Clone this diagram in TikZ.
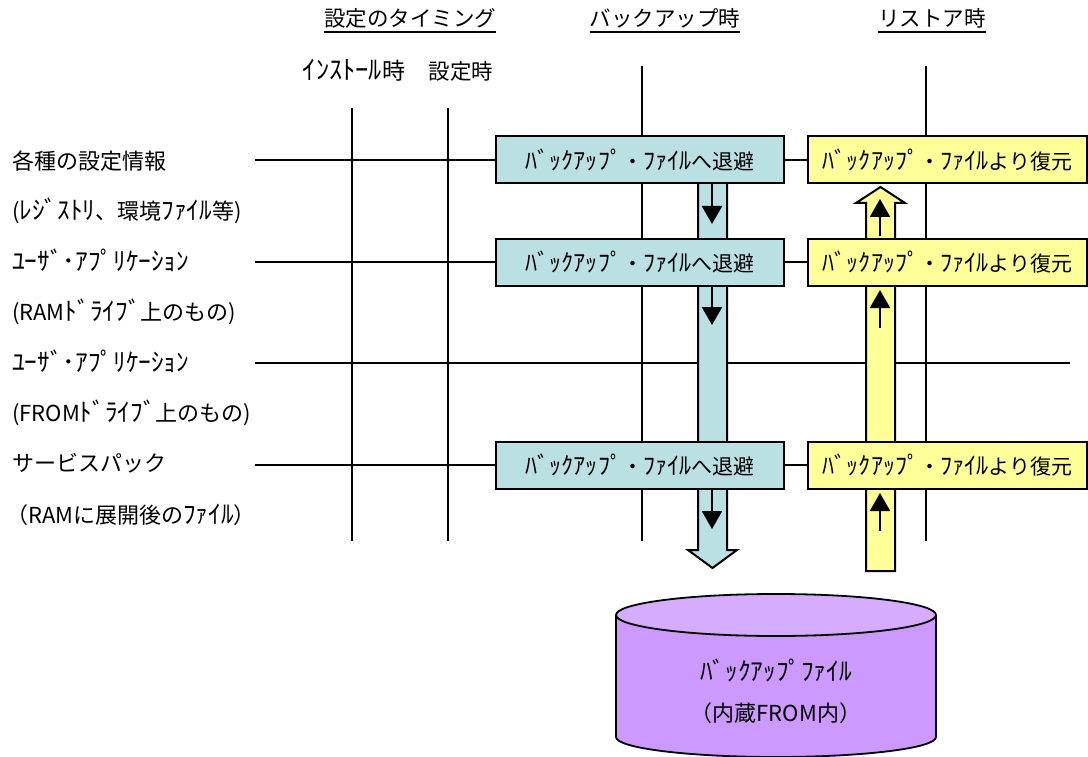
\documentclass[tikz,border=0pt]{standalone}
\usepackage{fontspec}
\setmainfont{Noto Sans CJK JP}
\newfontfamily\hwf[Scale=1.15]{Noto Sans CJK JP}
\newcommand\hw[1]{{\hwf #1}}
\usetikzlibrary{arrows.meta}
\definecolor{bkblue}{HTML}{BBE0E3}
\definecolor{rsyel}{HTML}{FFFF99}
\definecolor{cylside}{HTML}{CC99FF}
\definecolor{cyltop}{HTML}{D6ACFF}
\begin{document}
\begin{tikzpicture}[x=1pt,y=-1pt,
  ln/.style={line width=1.8pt},
  bkbox/.style={draw, line width=2pt, fill=bkblue, minimum width=288pt, minimum height=47pt, inner sep=0pt, font=\fontsize{21}{25}\selectfont},
  rsbox/.style={draw, line width=2pt, fill=rsyel, minimum width=279pt, minimum height=47pt, inner sep=0pt, font=\fontsize{21}{25}\selectfont},
  hdr/.style={font=\fontsize{21.5}{25}\selectfont, inner sep=0pt, anchor=base},
  lbl/.style={font=\fontsize{22}{26}\selectfont, inner sep=0pt, anchor=base west},
  ctxt/.style={font=\fontsize{22}{26}\selectfont, inner sep=0pt},
  tipline/.style={line width=2pt, -{Triangle[width=20pt,length=18pt]}},
  blockarrow/.style={draw, line width=2pt, line join=miter}]
\useasboundingbox (0,0) rectangle (1088,757);

% headers
\node[hdr] (h1) at (410,27) {設定のタイミング};
\node[hdr] (h2) at (665,27) {バックアップ時};
\node[hdr] (h3) at (932,27) {リストア時};
\foreach \h in {h1,h2,h3}{
  \draw[ln] ([yshift=-5pt]\h.base west) -- ([yshift=-5pt]\h.base east);
}
\node[hdr, font=\fontsize{23}{27}\selectfont] (t1) at (354,80) {\hw{ｲﾝｽﾄｰﾙ}時};
\node[hdr] (t2) at (461,80) {設定時};

% left labels
\node[lbl] (l1) at (12,170) {各種の設定情報};
\node[lbl] (l2) at (12,220) {(\hw{ﾚｼﾞｽﾄﾘ}、環境\hw{ﾌｧｲﾙ}等)};
\node[lbl] (l3) at (12,270) {\hw{ﾕｰｻﾞ･ｱﾌﾟﾘｹｰｼｮﾝ}};
\node[lbl] (l4) at (12,320) {(RAM\hw{ﾄﾞﾗｲﾌﾞ}上のもの)};
\node[lbl] (l5) at (12,371) {\hw{ﾕｰｻﾞ･ｱﾌﾟﾘｹｰｼｮﾝ}};
\node[lbl] (l6) at (12,421) {(FROM\hw{ﾄﾞﾗｲﾌﾞ}上のもの)};
\node[lbl] (l7) at (12,471) {サービスパック};
\node[lbl] (l8) at (6,523) {（RAMに展開後の\hw{ﾌｧｲﾙ}）};

% vertical lines
\coordinate (v1t) at (352,108); \coordinate (v1b) at (352,541);
\coordinate (v2t) at (448,108); \coordinate (v2b) at (448,541);
\coordinate (v3t) at (642,66);  \coordinate (v3b) at (642,541);
\coordinate (v4t) at (926,66);  \coordinate (v4b) at (926,541);
\draw[ln] (v1t) -- (v1b);
\draw[ln] (v2t) -- (v2b);
\draw[ln] (v3t) -- (v3b);
\draw[ln] (v4t) -- (v4b);

% row lines start points
\coordinate (r1) at (255,160);
\coordinate (r2) at (255,262);
\coordinate (r3) at (255,363);
\coordinate (r3e) at (1070,363);
\coordinate (r4) at (255,465);
\draw[ln] (r3) -- (r3e);

% big block arrows
\fill[bkblue] (698,183) -- (698,550) -- (688,550) -- (712.5,568) -- (737,550) -- (727,550) -- (727,183) -- cycle;
\draw[blockarrow] (698,183) -- (698,550) -- (688,550) -- (712.5,568) -- (737,550) -- (727,550) -- (727,183);
\draw[blockarrow, fill=rsyel] (866,571) -- (866,203) -- (856,203) -- (880.5,187) -- (905,203) -- (895,203) -- (895,571) -- cycle;

% boxes
\node[bkbox] (bk1) at (640,160) {\hw{ﾊﾞｯｸｱｯﾌﾟ}・\hw{ﾌｧｲﾙ}へ退避};
\node[bkbox] (bk2) at (640,262) {\hw{ﾊﾞｯｸｱｯﾌﾟ}・\hw{ﾌｧｲﾙ}へ退避};
\node[bkbox] (bk3) at (640,465) {\hw{ﾊﾞｯｸｱｯﾌﾟ}・\hw{ﾌｧｲﾙ}へ退避};
\node[rsbox] (rs1) at (947.5,160) {\hw{ﾊﾞｯｸｱｯﾌﾟ}・\hw{ﾌｧｲﾙ}より復元};
\node[rsbox] (rs2) at (947.5,262) {\hw{ﾊﾞｯｸｱｯﾌﾟ}・\hw{ﾌｧｲﾙ}より復元};
\node[rsbox] (rs3) at (947.5,465) {\hw{ﾊﾞｯｸｱｯﾌﾟ}・\hw{ﾌｧｲﾙ}より復元};

\draw[ln] (r1) -- (bk1.west);
\draw[ln] (r2) -- (bk2.west);
\draw[ln] (r4) -- (bk3.west);
\draw[ln] (bk1.east) -- (rs1.west);
\draw[ln] (bk2.east) -- (rs2.west);
\draw[ln] (bk3.east) -- (rs3.west);

% inner arrows
\coordinate (d1a) at (712,184); \coordinate (d1b) at (712,224);
\coordinate (d2a) at (712,286); \coordinate (d2b) at (712,325);
\coordinate (d3a) at (712,489); \coordinate (d3b) at (712,529);
\draw[tipline] (d1a) -- (d1b);
\draw[tipline] (d2a) -- (d2b);
\draw[tipline] (d3a) -- (d3b);
\coordinate (u1a) at (880,236); \coordinate (u1b) at (880,199);
\coordinate (u2a) at (880,328); \coordinate (u2b) at (880,290);
\coordinate (u3a) at (880,531); \coordinate (u3b) at (880,493);
\draw[tipline] (u1a) -- (u1b);
\draw[tipline] (u2a) -- (u2b);
\draw[tipline] (u3a) -- (u3b);

% cylinder
\fill[cylside] (616,615) -- (616,737) arc[start angle=180, end angle=360, x radius=160, y radius=-20] -- (936,615) -- cycle;
\draw[ln] (616,615) -- (616,737) arc[start angle=180, end angle=360, x radius=160, y radius=-20] -- (936,615);
\draw[ln, fill=cyltop] (776,615) ellipse[x radius=160, y radius=21];
\node[ctxt] (c1) at (776,670) {\hw{ﾊﾞｯｸｱｯﾌﾟﾌｧｲﾙ}};
\node[ctxt] (c2) at (776,713) {（内蔵FROM内）};
\end{tikzpicture}
\end{document}
